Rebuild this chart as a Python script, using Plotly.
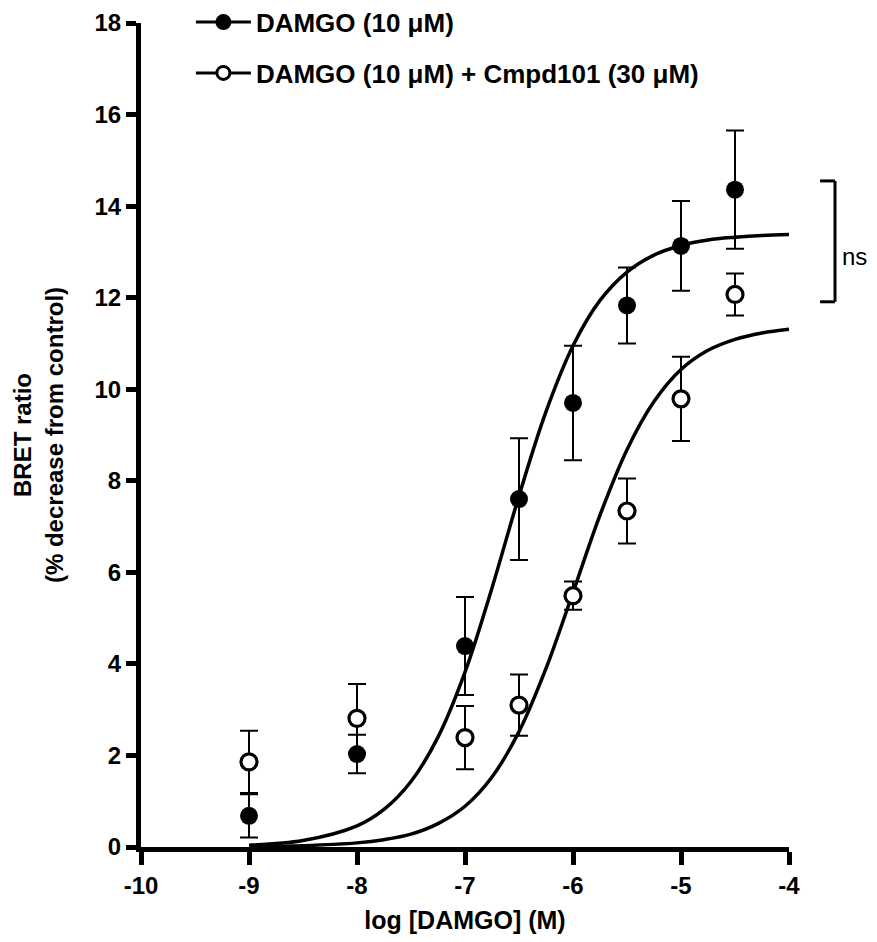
import plotly.graph_objects as go

# ---------------- data ----------------
log_conc = [-9, -8, -7, -6.5, -6, -5.5, -5, -4.5]

damgo_mean = [0.68, 2.03, 4.39, 7.60, 9.70, 11.83, 13.13, 14.36]
damgo_sem = [0.47, 0.42, 1.07, 1.33, 1.25, 0.83, 0.98, 1.29]

cmpd_mean = [1.86, 2.81, 2.39, 3.10, 5.49, 7.34, 9.79, 12.07]
cmpd_sem = [0.68, 0.75, 0.69, 0.67, 0.31, 0.71, 0.92, 0.46]

# fitted curves
curve_x = [-9, -8.5, -8, -7.75, -7.5, -7.25, -7, -6.75, -6.5, -6.25, -6,
           -5.75, -5.5, -5.25, -5, -4.75, -4.5, -4.25, -4]
damgo_curve = [0.04, 0.14, 0.46, 0.82, 1.43, 2.40, 3.82, 5.66, 7.67, 9.51, 10.95,
               11.94, 12.56, 12.93, 13.14, 13.26, 13.32, 13.36, 13.38]
cmpd_curve = [0.01, 0.03, 0.09, 0.16, 0.28, 0.51, 0.89, 1.53, 2.52, 3.90, 5.56,
              7.25, 8.68, 9.73, 10.43, 10.85, 11.09, 11.23, 11.31]

x_ticks = [-10, -9, -8, -7, -6, -5, -4]
y_ticks = [0, 2, 4, 6, 8, 10, 12, 14, 16, 18]
x_range = [-10, -4]
y_range = [0, 18]

bracket_top = 14.55
bracket_bottom = 11.91
sig_label = "ns"

name_damgo = "DAMGO (10 μM)"
name_cmpd = "DAMGO (10 μM) + Cmpd101 (30 μM)"

# ---------------- figure ----------------
FONT = "Arial, Liberation Sans, sans-serif"

fig = go.Figure()

# curves
for cy in (damgo_curve, cmpd_curve):
    fig.add_trace(go.Scatter(x=curve_x, y=cy, mode="lines",
                             line=dict(color="black", width=3.5, shape="spline"),
                             showlegend=False, hoverinfo="skip"))

# open circles (drawn first)
fig.add_trace(go.Scatter(
    x=log_conc, y=cmpd_mean, mode="markers",
    marker=dict(symbol="circle", size=16, color="white",
                line=dict(color="black", width=3.2)),
    error_y=dict(type="data", array=cmpd_sem, visible=True,
                 color="black", thickness=2, width=9),
    showlegend=False, cliponaxis=False))

# filled circles
fig.add_trace(go.Scatter(
    x=log_conc, y=damgo_mean, mode="markers",
    marker=dict(symbol="circle", size=18, color="black",
                line=dict(color="black", width=0)),
    error_y=dict(type="data", array=damgo_sem, visible=True,
                 color="black", thickness=2, width=9),
    showlegend=False, cliponaxis=False))

# legend entries
fig.add_trace(go.Scatter(
    x=[None], y=[None], mode="lines+markers", name=name_damgo,
    line=dict(color="black", width=3),
    marker=dict(symbol="circle", size=16, color="black"),
    legendgroup="a"))
fig.add_trace(go.Scatter(
    x=[None], y=[None], mode="lines+markers", name=name_cmpd,
    line=dict(color="black", width=3),
    marker=dict(symbol="circle", size=13, color="white",
                line=dict(color="black", width=3)),
    legendgroup="b"))

# significance bracket (outside the plot area, paper coords from y values)
def ypaper(v):
    return (v - y_range[0]) / (y_range[1] - y_range[0])

bx_tick = 1.048
bx_line = 1.071
for (x0, y0, x1, y1) in [
    (bx_tick, ypaper(bracket_top), bx_line, ypaper(bracket_top)),
    (bx_line, ypaper(bracket_top), bx_line, ypaper(bracket_bottom)),
    (bx_tick, ypaper(bracket_bottom), bx_line, ypaper(bracket_bottom)),
]:
    fig.add_shape(type="line", xref="paper", yref="paper",
                  x0=x0, y0=y0, x1=x1, y1=y1,
                  line=dict(color="black", width=3))

fig.add_annotation(xref="paper", yref="paper",
                   x=1.079, y=ypaper((bracket_top + bracket_bottom) / 2),
                   text=sig_label, showarrow=False, xanchor="left",
                   font=dict(family=FONT, size=24, color="black"))

# the page body adds an 8px offset; size and margins compensate for it
fig.update_layout(
    width=869, height=926,
    margin=dict(l=133, r=88, t=15, b=87, autoexpand=False),
    paper_bgcolor="white", plot_bgcolor="white",
    font=dict(family=FONT, color="black"),
    legend=dict(x=0.077, y=1.0295, xanchor="left", yanchor="top",
                bgcolor="rgba(0,0,0,0)", tracegroupgap=14,
                traceorder="grouped", itemwidth=55,
                font=dict(family=FONT, size=26, color="black", weight="bold"),
                itemsizing="trace"),
    xaxis=dict(range=x_range, tickvals=x_ticks, ticktext=[str(v) for v in x_ticks],
               showgrid=False, zeroline=False, showline=True,
               linecolor="black", linewidth=5, automargin=False,
               ticks="outside", ticklen=13, tickwidth=5, tickcolor="black",
               tickfont=dict(family=FONT, size=24, color="black", weight="bold"),
               title=dict(text="log [DAMGO] (M)", standoff=22,
                          font=dict(family=FONT, size=25, color="black", weight="bold"))),
    yaxis=dict(range=y_range, tickvals=y_ticks, ticktext=[str(v) for v in y_ticks],
               showgrid=False, zeroline=False, showline=True,
               linecolor="black", linewidth=5, automargin=False,
               ticks="outside", ticklen=10, tickwidth=5, tickcolor="black",
               tickfont=dict(family=FONT, size=24, color="black", weight="bold"),
               title=dict(text="BRET ratio<br>(% decrease from control)", standoff=26,
                          font=dict(family=FONT, size=24, color="black", weight="bold"))),
)

fig.write_html("out.html")
